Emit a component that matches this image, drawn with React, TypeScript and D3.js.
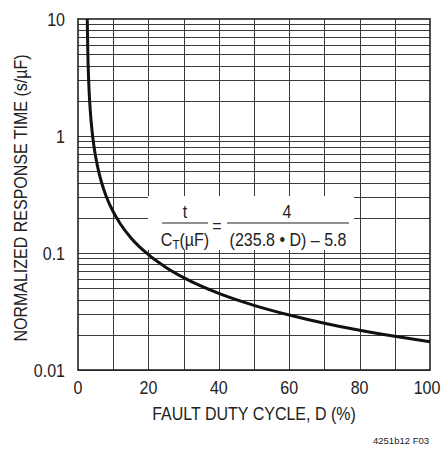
import { useEffect, useRef } from 'react'
import * as d3 from 'd3'

// duty cycle (%) and normalized response time (s/µF)
const dutyCycle = [2.63, 2.8, 3, 3.2, 3.5, 4, 4.5, 5, 6, 7, 8, 10, 12, 15, 20, 25, 30, 40, 50, 60, 70, 80, 90, 100]
const responseTime = [10, 4.98, 3.14, 2.29, 1.63, 1.1, 0.831, 0.668, 0.479, 0.374, 0.306, 0.225, 0.178, 0.135, 0.0967, 0.0753, 0.0616, 0.0452, 0.0357, 0.0295, 0.0251, 0.0219, 0.0194, 0.0174]

const xTicks = [0, 20, 40, 60, 80, 100]
const yTicks = [0.01, 0.1, 1, 10]
const yTickLabels = ['0.01', '0.1', '1', '10']

const FONT = "'Liberation Sans', Arial, sans-serif"
const SQUEEZE = 0.89

export default function App() {
  const ref = useRef<SVGSVGElement | null>(null)

  useEffect(() => {
    if (!ref.current) return
    const svg = d3.select(ref.current)
    svg.selectAll('*').remove()

    const width = 442
    const height = 451
    const margin = { top: 19, right: 12, bottom: 81, left: 78 }

    const x = d3.scaleLinear().domain([0, 100]).range([margin.left, width - margin.right])
    const y = d3.scaleLog().domain([0.01, 10]).range([height - margin.bottom, margin.top])

    svg.append('rect').attr('width', width).attr('height', height).attr('fill', '#fff')

    const grid = svg.append('g').attr('stroke', '#3a3a3a').attr('stroke-width', 1).attr('shape-rendering', 'crispEdges')

    // horizontal log grid
    const hLines: number[] = []
    for (let dec = 0.01; dec < 10; dec *= 10) {
      for (let m = 1; m <= 9; m++) hLines.push(+(dec * m).toPrecision(3))
    }
    grid.selectAll('line.h')
      .data(hLines)
      .join('line')
      .attr('class', 'h')
      .attr('x1', x(0)).attr('x2', x(100))
      .attr('y1', d => Math.round(y(d)) + 0.5).attr('y2', d => Math.round(y(d)) + 0.5)

    // vertical grid every 10%
    grid.selectAll('line.v')
      .data(d3.range(10, 100, 10))
      .join('line')
      .attr('class', 'v')
      .attr('y1', y(10)).attr('y2', y(0.01))
      .attr('x1', d => Math.round(x(d)) + 0.5).attr('x2', d => Math.round(x(d)) + 0.5)

    // formula box (white background hiding grid)
    svg.append('rect')
      .attr('x', 148).attr('y', 196).attr('width', 206).attr('height', 54)
      .attr('fill', '#fff')

    // frame
    svg.append('rect')
      .attr('x', x(0)).attr('y', y(10))
      .attr('width', x(100) - x(0)).attr('height', y(0.01) - y(10))
      .attr('fill', 'none').attr('stroke', '#222').attr('stroke-width', 1.6)

    // curve
    const line = d3.line<number>()
      .x((_, i) => x(dutyCycle[i]))
      .y(d => y(d))
      .curve(d3.curveMonotoneX)
    svg.append('path')
      .datum(responseTime)
      .attr('d', line)
      .attr('fill', 'none')
      .attr('stroke', '#111')
      .attr('stroke-width', 3)

    const text = svg.append('g').attr('font-family', FONT).attr('fill', '#222').attr('font-size', 18)

    // condensed-looking text: squeeze horizontally around the anchor point
    const label = (tx: number, ty: number, anchor: string, s: string, rot = 0) =>
      text.append('text')
        .attr('transform', `translate(${tx},${ty}) rotate(${rot}) scale(${SQUEEZE},1)`)
        .attr('text-anchor', anchor)
        .text(s)

    yTicks.forEach((v, i) => {
      label(x(0) - 13, y(v) + 6.5, 'end', yTickLabels[i])
    })
    xTicks.forEach((v, i) => {
      label(x(v) - (i === xTicks.length - 1 ? 3 : 0), y(0.01) + 24, 'middle', String(v))
    })

    label((x(0) + x(100)) / 2, 420, 'middle', 'FAULT DUTY CYCLE, D (%)')
    label(27, 198, 'middle', 'NORMALIZED RESPONSE TIME (s/µF)', -90)

    text.append('text')
      .attr('x', 429).attr('y', 444)
      .attr('text-anchor', 'end').attr('font-size', 9)
      .attr('textLength', 56).attr('lengthAdjust', 'spacingAndGlyphs')
      .text('4251b12 F03')

    // formula
    label(185, 218, 'middle', 't')
    text.append('line').attr('x1', 162).attr('x2', 208).attr('y1', 223).attr('y2', 223).attr('stroke', '#222').attr('stroke-width', 1.2)
    const ct = text.append('text')
      .attr('transform', `translate(185,246) scale(${SQUEEZE},1)`)
      .attr('text-anchor', 'middle')
    ct.append('tspan').text('C')
    ct.append('tspan').attr('font-size', 13).attr('dy', 3).text('T')
    ct.append('tspan').attr('dy', -3).text('(µF)')
    label(217, 232, 'middle', '=')
    label(287, 218, 'middle', '4')
    text.append('line').attr('x1', 227).attr('x2', 349).attr('y1', 223).attr('y2', 223).attr('stroke', '#222').attr('stroke-width', 1.2)
    label(288, 246, 'middle', '(235.8 • D) – 5.8')
  }, [])

  return (
    <svg
      ref={ref}
      width={442}
      height={451}
      overflow="visible"
      style={{ display: 'block', position: 'fixed', left: 0, top: 0 }}
    ></svg>
  )
}
